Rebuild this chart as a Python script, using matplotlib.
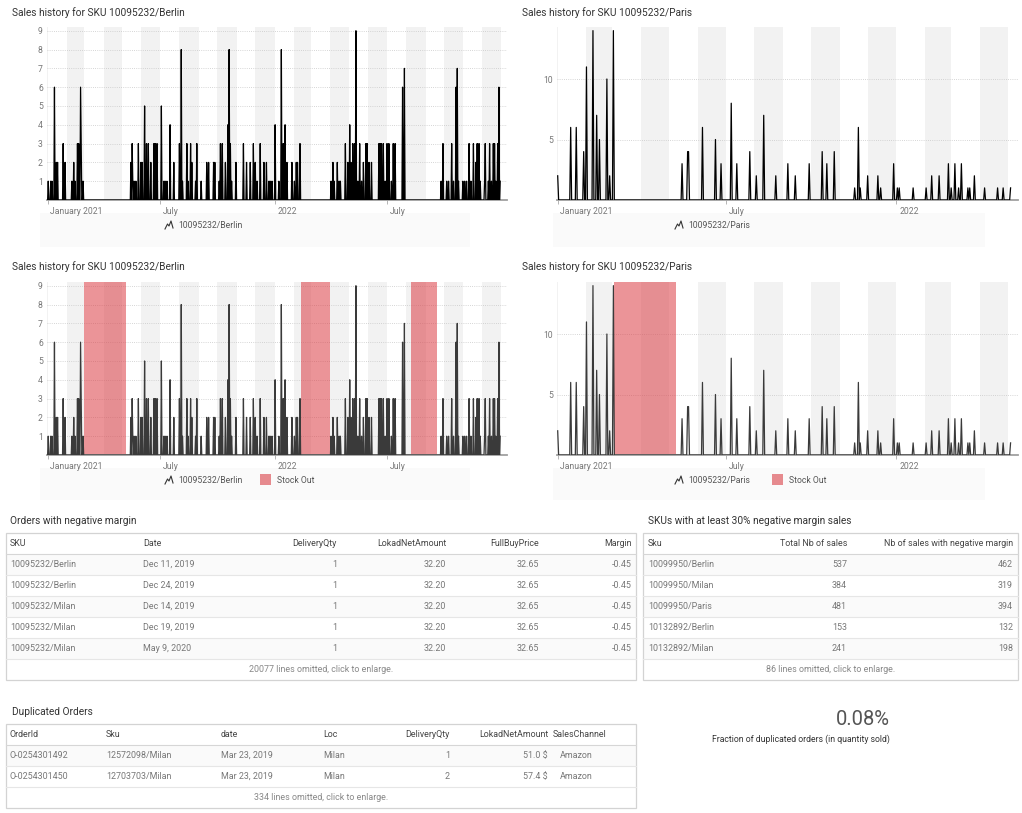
import numpy as np
import pandas as pd
import matplotlib
matplotlib.use('Agg')
import matplotlib.pyplot as plt
from matplotlib.patches import Rectangle
from matplotlib import transforms

plt.rcParams['font.family'] = ['Roboto', 'DejaVu Sans']

W, H = 1022, 813
start = pd.Timestamp('2021-01-01')

# daily sales, stored as (days since 2021-01-01, qty) for the days with a sale
berlin_day = [1, 5, 7, 11, 14, 16, 25, 28, 39, 42, 44, 48, 50, 53, 54, 57,
              134, 136, 137, 139, 142, 146, 150, 152, 156, 159, 162, 166, 171, 173, 176,
              183, 187, 189, 192, 197, 203, 212, 215, 217, 224, 226, 230, 232, 238, 240,
              247, 256, 259, 267, 269, 276, 278, 281, 286, 290, 292, 294, 296, 303, 315,
              320, 326, 331, 334, 337, 342, 348, 352, 356, 358, 361, 366, 372, 376, 379,
              382, 385, 393, 397, 400, 402, 406,
              456, 459, 461, 466, 469, 471, 479, 483, 486, 488, 491, 494, 496, 499, 502,
              505, 508, 512, 514, 517, 521, 533, 535, 537, 540, 543, 546, 549, 553, 556,
              559, 571, 574,
              633, 636, 642, 645, 650, 653, 657, 659, 661, 668, 671, 674, 678, 681, 685,
              689, 691, 694, 696, 703, 704, 709, 711, 714, 717, 719, 721, 724, 726, 728]
berlin_qty = [1, 1, 1, 6, 2, 2, 3, 2, 1, 2, 1, 3, 3, 6, 3, 1,
              2, 3, 1, 1, 1, 3, 2, 2, 5, 3, 3, 2, 3, 3, 3,
              5, 1, 1, 1, 4, 2, 3, 8, 1, 3, 1, 3, 2, 1, 3,
              1, 2, 2, 2, 2, 1, 3, 3, 2, 4, 8, 3, 1, 2, 3,
              2, 2, 3, 2, 1, 3, 2, 2, 1, 1, 1, 4, 1, 8, 3,
              4, 2, 2, 1, 2, 2, 3,
              1, 2, 1, 2, 1, 1, 3, 2, 4, 2, 3, 3, 9, 1, 3,
              1, 2, 3, 3, 2, 2, 3, 3, 3, 3, 1, 3, 3, 1, 3,
              3, 6, 7,
              1, 3, 1, 1, 3, 1, 6, 7, 1, 1, 1, 1, 3, 1, 3,
              2, 3, 3, 1, 1, 3, 1, 3, 1, 3, 3, 1, 3, 6, 1]
berlin_last = 728
berlin_stockout = [('2021-03-01', '2021-05-07'), ('2022-02-12', '2022-03-31'),
                   ('2022-08-08', '2022-09-20')]

paris_day = [0, 14, 20, 28, 31, 38, 42, 45, 53, 56, 60,
             134, 140, 141, 156, 170, 176,
             187, 193, 207, 214, 222, 235, 248, 256, 271, 285, 290, 298,
             320, 324, 326, 334, 345, 348, 362,
             366, 368, 383, 397, 403, 411, 421, 424, 428, 432, 435, 442, 444, 449,
             460, 474, 480, 488]
paris_qty = [2, 6, 6, 4, 11, 14, 7, 5, 10, 2, 14,
             3, 4, 4, 6, 5, 3,
             8, 3, 4, 2, 7, 2, 3, 2, 3, 4, 3, 4,
             1, 6, 1, 2, 2, 1, 3,
             1, 1, 1, 1, 2, 2, 3, 1, 3, 1, 3, 1, 1, 2,
             1, 1, 1, 1]
paris_last = 488
paris_stockout = [('2021-03-03', '2021-05-08')]

tick_dates = ['2021-01-01', '2021-07-01', '2022-01-01', '2022-07-01']
tick_labels = ['January 2021', 'July', '2022', 'July']

# tables
neg_sku = ['10095232/Berlin', '10095232/Berlin', '10095232/Milan', '10095232/Milan', '10095232/Milan']
neg_date = ['Dec 11, 2019', 'Dec 24, 2019', 'Dec 14, 2019', 'Dec 19, 2019', 'May 9, 2020']
neg_qty = [1, 1, 1, 1, 1]
neg_net = [32.20, 32.20, 32.20, 32.20, 32.20]
neg_buy = [32.65, 32.65, 32.65, 32.65, 32.65]
neg_margin = [-0.45, -0.45, -0.45, -0.45, -0.45]
neg_omitted = 20077

sku30_sku = ['10099950/Berlin', '10099950/Milan', '10099950/Paris', '10132892/Berlin', '10132892/Milan']
sku30_total = [537, 384, 481, 153, 241]
sku30_neg = [462, 319, 394, 132, 198]
sku30_omitted = 86

dup_order = ['O-0254301492', 'O-0254301450']
dup_sku = ['12572098/Milan', '12703703/Milan']
dup_date = ['Mar 23, 2019', 'Mar 23, 2019']
dup_loc = ['Milan', 'Milan']
dup_qty = [1, 2]
dup_net = [51.0, 57.4]
dup_channel = ['Amazon', 'Amazon']
dup_omitted = 334
dup_fraction = 0.08


def daily(days, qty, last):
    s = pd.Series(0.0, index=pd.date_range(start, periods=last + 1, freq='D'))
    s.iloc[days] = qty
    return s


berlin = daily(berlin_day, berlin_qty, berlin_last)
paris = daily(paris_day, paris_qty, paris_last)

fig = plt.figure(figsize=(W / 100, H / 100), dpi=100)
bg = fig.add_axes([0, 0, 1, 1])
bg.set_xlim(0, W)
bg.set_ylim(H, 0)
bg.axis('off')


def px_rect(x0, y0, x1, y1):
    return [x0 / W, 1 - y1 / H, (x1 - x0) / W, (y1 - y0) / H]


def sales_chart(rect, s, xlim, ymax, yticks, stockouts, color):
    ax = fig.add_axes(px_rect(*rect))
    ax.set_facecolor('none')
    lo, hi = pd.Timestamp(xlim[0]), pd.Timestamp(xlim[1])
    # every other month shaded
    for m in pd.date_range('2020-12-01', hi, freq='MS'):
        if m.month % 2 == 0:
            ax.axvspan(m, m + pd.offsets.MonthBegin(1), color='#f2f2f2', lw=0, zorder=0.2)
    for a, b in stockouts:
        ax.axvspan(pd.Timestamp(a), pd.Timestamp(b), color='#dc3c44', alpha=0.55, lw=0, zorder=1)
    ax.plot(s.index, s.values, color=color, lw=0.9, zorder=3)
    ax.set_xlim(lo, hi)
    ax.set_ylim(0, ymax)
    ax.set_yticks(yticks)
    ax.set_axisbelow(True)
    ax.yaxis.grid(True, linestyle=(0, (1, 1.6)), color='#c8c8c8', lw=0.6)
    for sp in ['top', 'right', 'left']:
        ax.spines[sp].set_visible(False)
    ax.spines['bottom'].set_color('#a0a0a0')
    ax.spines['bottom'].set_linewidth(1.3)
    ax.tick_params(axis='y', length=0, pad=3, labelsize=6.2, labelcolor='#777')
    ax.tick_params(axis='x', length=3, width=0.6, color='#aaa', pad=2, labelsize=6.2, labelcolor='#777')
    td = [pd.Timestamp(t) for t in tick_dates]
    keep = [i for i, t in enumerate(td) if lo <= t <= hi]
    ax.set_xticks([td[i] for i in keep], [tick_labels[i] for i in keep])
    off = transforms.ScaledTranslation(2 / 72, 0, fig.dpi_scale_trans)
    for lab in ax.get_xticklabels():
        lab.set_ha('left')
        lab.set_transform(lab.get_transform() + off)
    return ax


def legend(x0, x1, y0, y1, ix, label, so_x=None):
    bg.add_patch(Rectangle((x0, y0), x1 - x0, y1 - y0, fc='#fafafa', ec='none'))
    yc = y0 + 12
    bg.plot([ix, ix + 2.5, ix + 4, ix + 6, ix + 8], [yc + 4, yc - 1, yc + 1, yc - 4, yc + 3],
            color='#333', lw=0.8)
    bg.text(ix + 13, yc, label, fontsize=6.2, color='#555', va='center', ha='left')
    if so_x is not None:
        bg.add_patch(Rectangle((so_x, yc - 6), 11, 11, fc='#e68a8e', ec='none'))
        bg.text(so_x + 17, yc, 'Stock Out', fontsize=6.2, color='#555', va='center', ha='left')


title_kw = dict(fontsize=7.3, color='#333', va='center', ha='left')

# top row
bg.text(12, 13, 'Sales history for SKU 10095232/Berlin', **title_kw)
sales_chart((47, 27, 507, 200), berlin, ('2020-12-31', '2023-01-10'), 9.2, range(1, 10), [], '#000000')
legend(40, 470, 213, 247, 165, '10095232/Berlin')

bg.text(522, 13, 'Sales history for SKU 10095232/Paris', **title_kw)
sales_chart((557, 27, 1018, 200), paris, ('2020-12-31 06:00', '2022-05-12'), 14.3, [5, 10], [], '#000000')
legend(553, 985, 213, 247, 675, '10095232/Paris')

# second row (with stock outs)
bg.text(12, 267, 'Sales history for SKU 10095232/Berlin', **title_kw)
sales_chart((47, 282, 507, 455), berlin, ('2020-12-31', '2023-01-10'), 9.2, range(1, 10),
            berlin_stockout, '#3a3a3a')
legend(40, 470, 468, 500, 165, '10095232/Berlin', so_x=260)

bg.text(522, 267, 'Sales history for SKU 10095232/Paris', **title_kw)
sales_chart((557, 282, 1018, 455), paris, ('2020-12-31 06:00', '2022-05-12'), 14.3, [5, 10],
            paris_stockout, '#3a3a3a')
legend(553, 985, 468, 500, 675, '10095232/Paris', so_x=772)


def draw_table(x0, x1, top, headers, hxs, aligns, columns, footer, vxs=None):
    rh = 21
    nrows = len(columns[0])
    bottom = top + rh * (nrows + 2)
    vxs = vxs or hxs
    for i in range(nrows):
        if i % 2 == 0:
            bg.add_patch(Rectangle((x0, top + rh * (i + 1)), x1 - x0, rh, fc='#fafafa', ec='none'))
    for k in range(1, nrows + 2):
        y = top + rh * k
        bg.plot([x0, x1], [y, y], color='#d6d6d6' if k == 1 else '#e6e6e6', lw=0.8)
    bg.add_patch(Rectangle((x0, top), x1 - x0, bottom - top, fill=False, ec='#d3d3d3', lw=0.9))
    for h, x, a in zip(headers, hxs, aligns):
        bg.text(x, top + rh / 2, h, ha=a, va='center', fontsize=6.4, color='#444')
    for col, x, a in zip(columns, vxs, aligns):
        for i, v in enumerate(col):
            bg.text(x, top + rh * (i + 1.5), v, ha=a, va='center', fontsize=6.4, color='#777')
    bg.text((x0 + x1) / 2, top + rh * (nrows + 1.5), footer, ha='center', va='center',
            fontsize=6.4, color='#888')


bg.text(10, 521, 'Orders with negative margin', **title_kw)
draw_table(6, 636, 533,
           ['SKU', 'Date', 'DeliveryQty', 'LokadNetAmount', 'FullBuyPrice', 'Margin'],
           [10, 143, 337, 446, 539, 632],
           ['left', 'left', 'right', 'right', 'right', 'right'],
           [neg_sku, neg_date, [str(v) for v in neg_qty], [f'{v:.2f}' for v in neg_net],
            [f'{v:.2f}' for v in neg_buy], [f'{v:.2f}' for v in neg_margin]],
           f'{neg_omitted} lines omitted, click to enlarge.')

bg.text(648, 521, 'SKUs with at least 30% negative margin sales', **title_kw)
draw_table(643, 1018, 533,
           ['Sku', 'Total Nb of sales', 'Nb of sales with negative margin'],
           [648, 847, 1013],
           ['left', 'right', 'right'],
           [sku30_sku, [str(v) for v in sku30_total], [str(v) for v in sku30_neg]],
           f'{sku30_omitted} lines omitted, click to enlarge.')

bg.text(12, 712, 'Duplicated Orders', **title_kw)
draw_table(6, 636, 724,
           ['OrderId', 'Sku', 'date', 'Loc', 'DeliveryQty', 'LokadNetAmount', 'SalesChannel'],
           [10, 106, 221, 323, 450, 548, 553],
           ['left', 'left', 'left', 'left', 'right', 'right', 'left'],
           [dup_order, dup_sku, dup_date, dup_loc, [str(v) for v in dup_qty],
            [f'{v:.1f} $' for v in dup_net], dup_channel],
           f'{dup_omitted} lines omitted, click to enlarge.',
           vxs=[10, 106, 221, 323, 450, 548, 560])

bg.text(890, 719, f'{dup_fraction:.2f}%', fontsize=14.5, color='#555', ha='right', va='center')
bg.text(890, 739, 'Fraction of duplicated orders (in quantity sold)', fontsize=6.2, color='#333',
        ha='right', va='center')

fig.savefig('out.png', dpi=100, facecolor='white')
